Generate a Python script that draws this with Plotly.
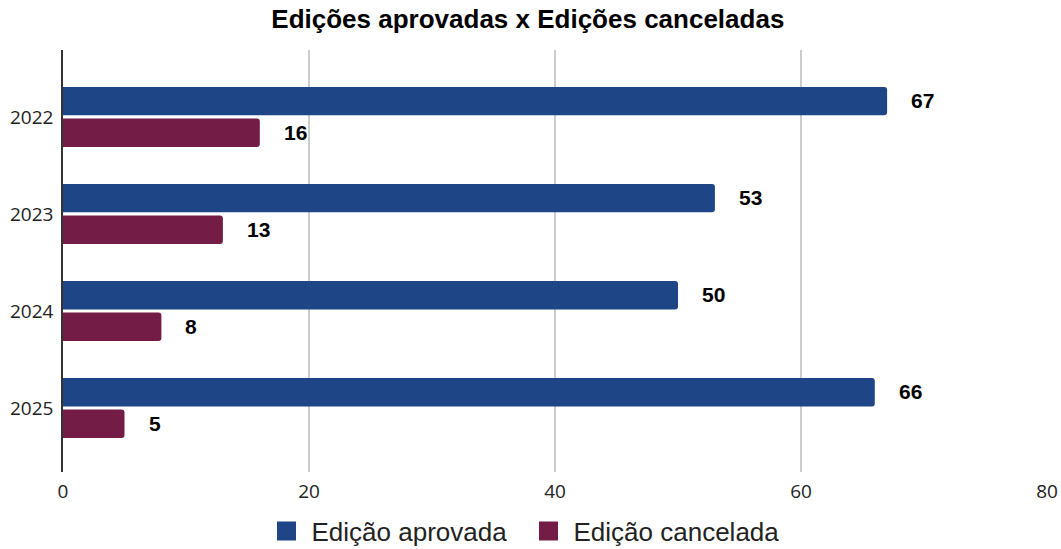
import plotly.graph_objects as go

anos = ["2022", "2023", "2024", "2025"]
aprovadas = [67, 53, 50, 66]
canceladas = [16, 13, 8, 5]

cor_aprovada = "#1E4586"
cor_cancelada = "#731C45"

fig = go.Figure()
for nome, valores, cor in (("Edição aprovada", aprovadas, cor_aprovada),
                           ("Edição cancelada", canceladas, cor_cancelada)):
    fig.add_trace(go.Bar(
        y=anos, x=valores, orientation="h", name=nome, showlegend=False,
        marker=dict(color=cor, line=dict(width=0)),
    ))
    # legend entry with a larger square swatch
    fig.add_trace(go.Scatter(
        x=[None], y=[None], mode="markers", name=nome,
        marker=dict(symbol="square", size=16, color=cor, line=dict(color=cor, width=3)),
    ))

# value labels to the right of each bar
for serie, off in ((aprovadas, -0.165), (canceladas, 0.165)):
    for i, v in enumerate(serie):
        fig.add_annotation(
            x=v, y=i + off, xref="x", yref="y", text=f"<b>{v}</b>",
            showarrow=False, xanchor="left", yanchor="middle", xshift=22,
            font=dict(family="Liberation Sans", size=21, color="#000000"),
        )

fig.update_layout(
    width=1061, height=549,
    margin=dict(l=63, r=14, t=50, b=77, autoexpand=False),
    paper_bgcolor="white", plot_bgcolor="white",
    title=dict(
        text="<b>Edições aprovadas x Edições canceladas</b>",
        x=0.4975, xanchor="center", y=0.965, yanchor="middle",
        font=dict(family="Liberation Sans", size=26, color="#000000"),
    ),
    barmode="group", bargap=0.35, bargroupgap=0.1, barcornerradius=3,
    showlegend=True,
    legend=dict(
        orientation="h", x=0.468, xanchor="center", y=-0.14, yanchor="middle",
        font=dict(family="Liberation Sans", size=26, color="#222222"),
        itemsizing="trace", itemwidth=40, entrywidth=207,
    ),
    xaxis=dict(
        range=[0, 80], dtick=20, showgrid=True, gridcolor="#CCCCCC", gridwidth=1.5,
        zeroline=False, showline=False, ticks="", automargin=False,
        tickfont=dict(family="Open Sans", size=19, color="#222222"),
        ticklabelstandoff=6,
    ),
    yaxis=dict(
        type="category", range=[3.66, -0.69], showgrid=False, automargin=False,
        showline=True, linecolor="#333333", linewidth=1.5, ticks="",
        tickfont=dict(family="Open Sans", size=19, color="#222222"),
        ticklabelstandoff=4,
    ),
)

fig.write_html("out.html")
